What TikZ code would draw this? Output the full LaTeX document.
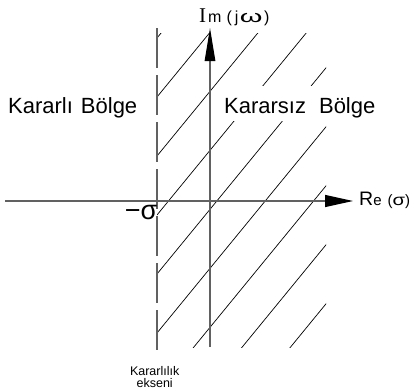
\documentclass[tikz,border=0pt]{standalone}
\usepackage{fontspec}
\usepackage{graphicx}
\setmainfont{Liberation Sans}
\newfontfamily\serifI{Liberation Serif}
\usetikzlibrary{arrows.meta}
\begin{document}
\begin{tikzpicture}[x=1pt,y=-1pt,
  axis/.style={draw=black!62, line width=1.2pt},
  hatch/.style={draw=black, line width=0.7pt},
  dashaxis/.style={draw=black!62, line width=1.2pt, dash pattern=on 39.5pt off 7.5pt},
  lbl/.style={inner sep=0pt, text=black}]
\useasboundingbox (0,0) rectangle (416,391);
% hatching of the unstable region
\begin{scope}
  \clip (157,33) rectangle (326,347);
  \foreach \k in {0,...,8}{
    \pgfmathsetmacro\yy{38+59*\k}
    \draw[hatch] (157,\yy) -- ++(200,-244);
  }
\end{scope}
% labels
\node[lbl, anchor=base west, font=\fontsize{22}{26}\selectfont] (stab) at (8,113) {Kararlı\hspace{8pt}Bölge};
\node[anchor=base west, fill=white, inner xsep=6pt, inner ysep=5pt, text height=22pt, text depth=3pt,
      font=\fontsize{22}{26}\selectfont] (unstab) at (218,113) {Kararsız\hspace{13pt}Bölge};
% axes
\coordinate (hL) at (5,201);
\coordinate (hR) at (353,201);
\coordinate (vB) at (210,347);
\coordinate (vT) at (210,28);
\coordinate (dT) at (157,28);
\coordinate (dB) at (157,350);
\draw[dashaxis] (dT) -- (dB);
\draw[axis, -{Triangle[length=28pt,width=12pt,black]}] (hL) -- (hR);
\draw[axis, -{Triangle[length=33pt,width=10.5pt,black]}] (vB) -- (vT);
\node[lbl, anchor=base west] (im) at (199,22.7)
  {{\serifI\fontsize{21}{21}\selectfont I}\hspace{2pt}{\fontsize{16}{16}\selectfont m\hspace{5pt}(\hspace{3pt}j\hspace{1.5pt}\scalebox{1.45}[0.85]{\fontsize{20}{20}\selectfont ω}\hspace{1.5pt})}};
\node[lbl, anchor=base west] (re) at (359,205.7)
  {{\fontsize{19.5}{20}\selectfont R}{\fontsize{15}{15}\selectfont e\hspace{6pt}(\scalebox{1.35}[1.05]{σ})}};
\node[lbl, anchor=base east, font=\fontsize{27}{27}\selectfont] (sig) at (157.5,219) {−σ};
\node[lbl, anchor=north, align=center, font=\fontsize{12.5}{11.7}\selectfont] (ax) at (154.7,366.5) {Kararlılık\\ekseni};
\end{tikzpicture}
\end{document}
